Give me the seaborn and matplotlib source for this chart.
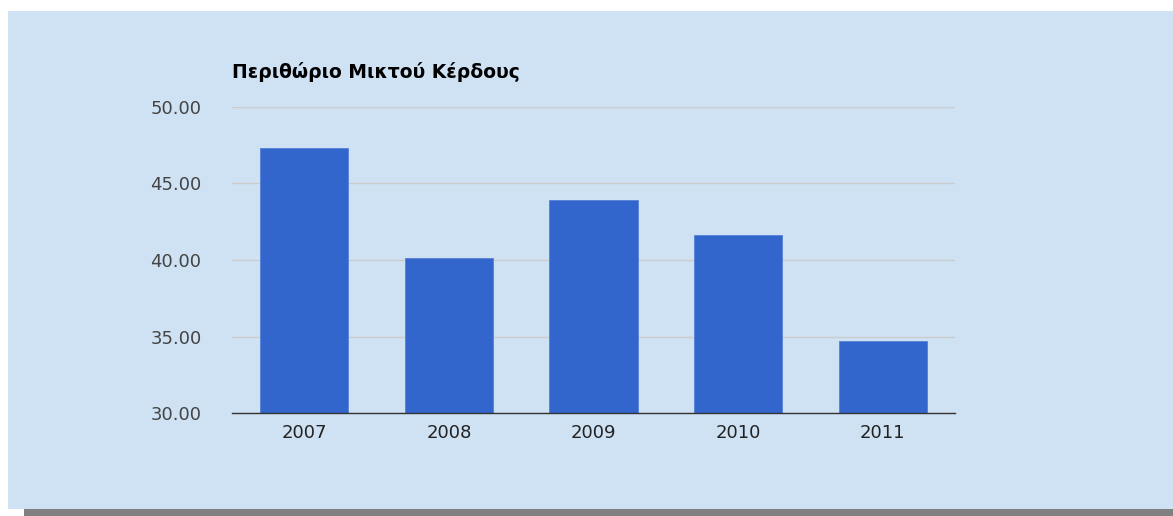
import matplotlib
matplotlib.use('Agg')
import matplotlib.pyplot as plt
import seaborn as sns
import pandas as pd
from matplotlib.patches import Rectangle

# Chart data
years = ['2007', '2008', '2009', '2010', '2011']
margin = [47.32, 40.13, 43.92, 41.63, 34.71]
y_ticks = [30, 35, 40, 45, 50]
title = 'Περιθώριο Μικτού Κέρδους'

df = pd.DataFrame({'year': years, 'margin': margin})

sns.set_style('white')
plt.rcParams['font.family'] = ['DejaVu Sans']

bg = '#cfe2f3'
fig = plt.figure(figsize=(11.73, 5.16), dpi=100)
fig.patch.set_facecolor('white')

# panel background and bottom shadow (drawn under the axes)
fig.patches.append(Rectangle((8 / 1173, 1 - 509 / 516), 1 - 8 / 1173, 498 / 516,
                             transform=fig.transFigure, facecolor=bg, edgecolor='none', zorder=-2))
fig.patches.append(Rectangle((24 / 1173, 0), 1 - 24 / 1173, 7 / 516,
                             transform=fig.transFigure, facecolor='#808080', edgecolor='none', zorder=-2))

ax = fig.add_axes([232 / 1173, 1 - 413 / 516, 723 / 1173, 306 / 516])
ax.set_facecolor(bg)

sns.barplot(data=df, x='year', y='margin', color='#3366cc', saturation=1,
            width=0.61, ax=ax, zorder=3, edgecolor='#5580d6', linewidth=0.6)

ax.set_ylim(30, 50)
ax.set_xlim(-0.5, len(years) - 0.5)
ax.set_yticks(y_ticks)
ax.set_yticklabels([f'{v:.2f}' for v in y_ticks], color='#444444', fontsize=13)
ax.set_xticklabels(years, color='#222222', fontsize=13)
ax.tick_params(axis='y', length=0, pad=22)
ax.tick_params(axis='x', length=0, pad=8)
ax.grid(axis='y', color='#cccccc', linewidth=1, zorder=0)
ax.set_axisbelow(True)

for side in ['top', 'right', 'left']:
    ax.spines[side].set_visible(False)
ax.spines['bottom'].set_color('#333333')
ax.spines['bottom'].set_linewidth(1)
ax.spines['bottom'].set_zorder(4)

ax.set_xlabel('')
ax.set_ylabel('')

fig.text(232 / 1173, 1 - 72 / 516, title, fontsize=13.5, fontweight='bold',
         color='black', ha='left', va='center')

fig.savefig('out.png', dpi=100, facecolor=fig.get_facecolor())
